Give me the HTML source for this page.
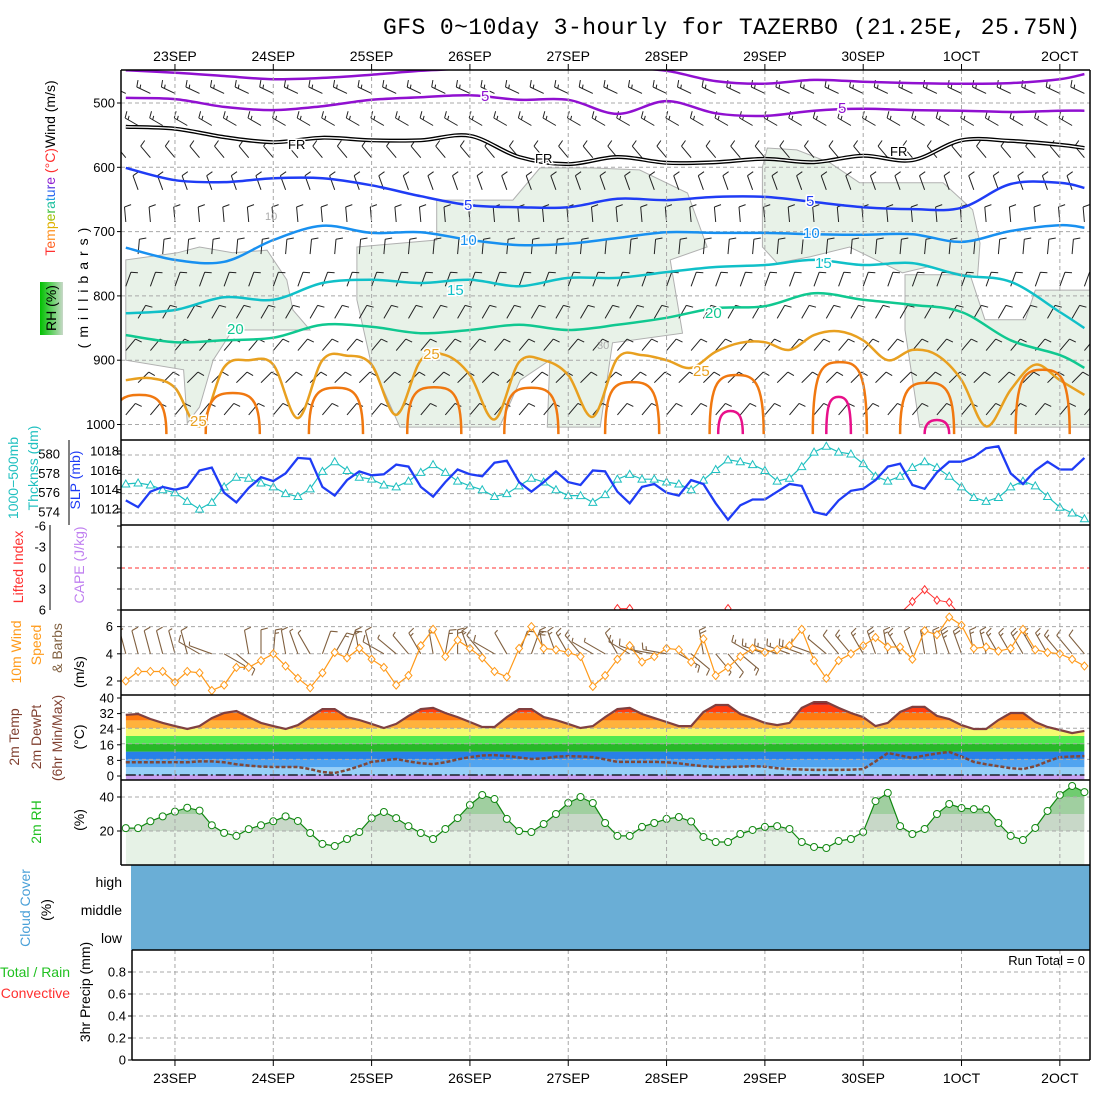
<!DOCTYPE html>
<html><head><meta charset="utf-8">
<style>
body{margin:0;background:#fff}
svg{display:block;font-family:"Liberation Sans",sans-serif}
.lbl{font-size:14px}
.tk{font-size:13px;fill:#000}
.cl{paint-order:stroke;stroke:#fff;stroke-width:3px;font-size:15px}
</style></head><body>
<svg id="chart" width="1100" height="1100" viewBox="0 0 1100 1100" xmlns="http://www.w3.org/2000/svg">
<defs>
<clipPath id="cpTop"><rect x="121" y="70" width="969" height="370"/></clipPath>
<clipPath id="cpSlp"><rect x="121" y="440" width="969" height="85"/></clipPath>
<clipPath id="cpLi"><rect x="121" y="525" width="969" height="85"/></clipPath>
<clipPath id="cpW"><rect x="121" y="610" width="969" height="85"/></clipPath>
<clipPath id="cpT"><rect x="121" y="695" width="969" height="85"/></clipPath>
<clipPath id="cpRH"><rect x="121" y="780" width="969" height="85"/></clipPath>
<linearGradient id="rhGrad" x1="0" x2="1" y1="0" y2="0"><stop offset="0" stop-color="#00c000"/><stop offset="0.5" stop-color="#60d060"/><stop offset="1" stop-color="#c8d8c8"/></linearGradient>
</defs>

<text x="383" y="34" textLength="697" style="font-family:'Liberation Mono',monospace;font-size:23px">GFS 0~10day 3-hourly for TAZERBO (21.25E, 25.75N)</text>

<g id="gTop" clip-path="url(#cpTop)"></g>
<g id="gSlp" clip-path="url(#cpSlp)"></g>
<g id="gLi" clip-path="url(#cpLi)"></g>
<g id="gW" clip-path="url(#cpW)"></g>
<g id="gT" clip-path="url(#cpT)"></g>
<g id="gRH" clip-path="url(#cpRH)"></g>
<g id="gCloud"></g>
<g id="gPr"></g>
<g id="gGrid"></g>
<g id="gFrame"></g>
<g id="gAxis"></g>

<g id="gLabels">
<text class="cl" x="481" y="101" fill="#9010d0">5</text>
<text class="cl" x="838" y="113" fill="#9010d0">5</text>
<text class="cl" x="288" y="149" fill="#000" style="font-size:13px">FR</text>
<text class="cl" x="535" y="163" fill="#000" style="font-size:13px">FR</text>
<text class="cl" x="890" y="156" fill="#000" style="font-size:13px">FR</text>
<text class="cl" x="464" y="210" fill="#1f3cf5">5</text>
<text class="cl" x="806" y="206" fill="#1f3cf5">5</text>
<text class="cl" x="460" y="245" fill="#1890f0">10</text>
<text class="cl" x="803" y="238" fill="#1890f0">10</text>
<text class="cl" x="447" y="295" fill="#10c0c8">15</text>
<text class="cl" x="815" y="268" fill="#10c0c8">15</text>
<text class="cl" x="227" y="334" fill="#10c890">20</text>
<text class="cl" x="705" y="318" fill="#10c890">20</text>
<text class="cl" x="423" y="359" fill="#e8a020">25</text>
<text class="cl" x="190" y="426" fill="#e8a020">25</text>
<text class="cl" x="693" y="376" fill="#e8a020">25</text>
<text x="265" y="220" fill="#aaa" style="font-size:11px">10</text>
<text x="597" y="349" fill="#aaa" style="font-size:11px">30</text>
</g>

<g id="gLeft">
<text class="lbl" transform="translate(55,168) rotate(-90)" text-anchor="middle"><tspan fill="#ff3030">T</tspan><tspan fill="#ff6020">e</tspan><tspan fill="#ff9020">m</tspan><tspan fill="#e0b000">p</tspan><tspan fill="#a0c000">e</tspan><tspan fill="#40c040">r</tspan><tspan fill="#20c0a0">a</tspan><tspan fill="#20a0e0">t</tspan><tspan fill="#2060f0">u</tspan><tspan fill="#6040e0">r</tspan><tspan fill="#9020d0">e</tspan><tspan fill="#ff3030"> (°C)</tspan><tspan fill="#000">Wind (m/s)</tspan></text>
<text class="lbl" transform="translate(88,285) rotate(-90)" text-anchor="middle" letter-spacing="6">(millibars)</text>
<rect x="40" y="282" width="23" height="53" fill="url(#rhGrad)"/>
<text class="lbl" transform="translate(56,308) rotate(-90)" text-anchor="middle">RH (%)</text>
<text class="lbl" transform="translate(18,478) rotate(-90)" text-anchor="middle" fill="#20c0c0">1000−500mb</text>
<text class="lbl" transform="translate(38,468) rotate(-90)" text-anchor="middle" fill="#20c0c0">Thcknss (dm)</text>
<text class="lbl" transform="translate(80,480) rotate(-90)" text-anchor="middle" fill="#1f3cf5">SLP (mb)</text>
<text class="lbl" transform="translate(23,567) rotate(-90)" text-anchor="middle" fill="#ff3030">Lifted Index</text>
<text class="lbl" transform="translate(84,565) rotate(-90)" text-anchor="middle" fill="#c080f0">CAPE (J/kg)</text>
<text class="lbl" transform="translate(21,652) rotate(-90)" text-anchor="middle" fill="#ff9a1a">10m Wind</text>
<text class="lbl" transform="translate(41,645) rotate(-90)" text-anchor="middle" fill="#ff9a1a">Speed</text>
<text class="lbl" transform="translate(62,648) rotate(-90)" text-anchor="middle" fill="#806040">&amp; Barbs</text>
<text class="lbl" transform="translate(84,672) rotate(-90)" text-anchor="middle">(m/s)</text>
<text class="lbl" transform="translate(19,737) rotate(-90)" text-anchor="middle" fill="#804030">2m Temp</text>
<text class="lbl" transform="translate(41,737) rotate(-90)" text-anchor="middle" fill="#804030">2m DewPt</text>
<text class="lbl" transform="translate(62,738) rotate(-90)" text-anchor="middle" fill="#804030">(6hr Min/Max)</text>
<text class="lbl" transform="translate(84,737) rotate(-90)" text-anchor="middle">(°C)</text>
<text class="lbl" transform="translate(41,822) rotate(-90)" text-anchor="middle" fill="#20c020">2m RH</text>
<text class="lbl" transform="translate(84,820) rotate(-90)" text-anchor="middle">(%)</text>
<text class="lbl" transform="translate(30,908) rotate(-90)" text-anchor="middle" fill="#4aa0d8">Cloud Cover</text>
<text class="lbl" transform="translate(51,910) rotate(-90)" text-anchor="middle">(%)</text>
<text class="lbl" x="122" y="887" text-anchor="end">high</text>
<text class="lbl" x="122" y="915" text-anchor="end">middle</text>
<text class="lbl" x="122" y="943" text-anchor="end">low</text>
<text class="lbl" x="70" y="977" text-anchor="end" fill="#20c020">Total / Rain</text>
<text class="lbl" x="70" y="998" text-anchor="end" fill="#ff3030">Convective</text>
<text class="lbl" transform="translate(90,992) rotate(-90)" text-anchor="middle">3hr Precip (mm)</text>
<text class="tk" x="1085" y="965" text-anchor="end">Run Total = 0</text>
</g>
</svg>
<script>
// ---------- data ----------
const dates = ["23SEP","24SEP","25SEP","26SEP","27SEP","28SEP","29SEP","30SEP","1OCT","2OCT"];
const slp = [1013.3,1012.6,1014.2,1014.7,1014.4,1014.7,1016.4,1016.7,1014.1,1013.1,1014.6,1015.7,1015.3,1016.1,1017.7,1017.6,1014.7,1013.8,1015.4,1016.3,1015.9,1016.0,1017.0,1016.8,1014.7,1013.7,1015.2,1016.5,1016.0,1015.8,1017.2,1017.4,1015.2,1014.2,1015.2,1016.3,1015.2,1014.9,1016.4,1016.3,1014.2,1013.0,1014.7,1015.0,1014.1,1013.8,1015.4,1015.0,1013.0,1011.3,1012.8,1013.4,1013.4,1014.2,1015.0,1014.8,1012.1,1011.8,1013.3,1014.3,1014.5,1015.4,1016.8,1017.1,1014.9,1014.5,1016.2,1017.3,1017.3,1017.8,1018.7,1018.9,1016.1,1015.0,1016.4,1017.3,1016.5,1016.5,1017.7];
const thickness = [577.0,577.1,576.9,576.4,576.1,575.2,574.4,575.1,576.7,577.7,577.6,577.1,576.7,576.0,575.7,576.5,578.3,579.3,578.4,577.7,577.5,576.9,576.7,577.3,578.2,579.0,578.2,577.3,576.8,576.4,575.7,576.0,576.8,577.6,577.2,576.4,575.8,575.8,575.1,575.9,577.5,578.0,577.5,577.5,577.2,577.0,576.4,577.4,578.5,579.5,579.3,579.0,578.4,577.3,577.6,578.8,580.3,580.9,580.3,580.1,579.1,577.8,577.3,577.8,578.7,579.3,578.7,577.8,576.7,575.6,575.2,575.6,576.7,577.3,576.8,575.7,574.6,574.0,573.4];
const liftedIndex = [9,9,9,9,9,9,9,9,9,9,9,9,9,9,9,9,9,9,9,9,9,9,9,9,9,9,9,9,9,9,9,9,9,9,9,9,9,9,9,9,5.8,5.8,9,9,9,9,9,9,9,5.8,9,9,9,9,9,9,9,9,9,9,9,9,9,6.5,4.8,3.1,4.6,4.9,7.0,9,9,9,9,9,9,9,9,9,9];
const windSpeed = [2.0,2.7,2.7,2.7,1.9,2.7,2.6,1.3,1.7,3.0,3.0,3.5,4.0,3.1,2.2,1.5,2.6,4.1,3.7,4.4,3.6,3.0,1.7,2.4,4.6,5.8,3.8,5.0,4.4,3.7,2.7,2.3,4.4,6.0,4.4,4.3,4.1,3.8,1.6,2.4,3.6,4.6,3.4,3.8,4.4,4.3,3.4,5.1,2.4,3.0,3.8,4.4,4.1,4.3,4.6,5.8,3.5,2.2,3.5,4.0,4.6,5.2,4.5,4.5,3.6,5.7,5.4,6.7,6.1,4.4,4.5,4.2,4.4,5.8,4.3,4.1,4.0,3.6,3.1];
const windDir = [345,345,345,345,345,345,300,290,120,130,350,0,5,350,340,330,20,30,20,350,345,300,310,320,330,350,10,0,340,320,300,330,20,20,350,340,330,320,300,300,330,300,290,280,280,120,130,350,140,140,130,300,290,290,290,290,290,310,320,320,330,340,350,330,340,350,350,340,340,350,345,330,330,330,330,330,320,320,320];
const temp2m = [30.8,31.3,28.7,26.7,25.1,23.6,25.1,29.2,31.8,32.8,29.7,26.7,25.1,23.6,25.6,29.7,33.8,33.8,29.7,28.2,26.2,24.1,26.2,30.3,33.8,34.4,31.8,29.7,27.2,24.6,24.6,29.7,33.8,33.8,29.7,28.2,26.2,24.1,25.1,29.7,33.8,34.4,31.3,29.2,27.2,25.1,25.1,32.3,35.9,35.9,31.3,29.2,26.7,25.6,26.7,34.4,37.4,37.4,34.4,31.8,29.7,25.1,26.7,32.3,34.9,34.9,30.3,28.7,25.6,23.6,23.6,28.2,31.8,31.8,27.2,24.6,23.1,21.5,22.6];
const dew2m = [6.5,6.5,6.5,6.5,6.5,6.5,7,7,6.5,5.5,4.8,4.3,4.1,4.1,4.1,3,1.5,1,2.5,4.5,6.7,7.5,8.2,7,6,5.6,6.5,8,9.2,10,10.2,9.8,9,8.2,8.5,9.4,9.7,9.5,9.2,8,6.7,6.7,6.7,6.7,6.5,6,5.2,4.5,4.1,4.1,4.3,4.5,4.3,3.5,3,2.8,2.6,2.6,2.6,2.7,3,7,11.3,10,8.7,10,11,11.8,9.5,6.7,5.5,4.5,3.5,3,4.5,7,9.2,9.5,9.7];
const rh2m = [21.7,21.7,25.7,28.6,31.4,33.7,32.0,23.4,18.9,17.1,21.1,23.4,25.7,28.6,25.9,18.8,12.4,11.2,15.3,19.4,27.6,31.2,27.6,22.9,18.8,15.3,21.2,27.6,35.3,41.2,38.8,27.1,20.0,19.4,24.1,30.0,36.5,40.0,36.5,24.7,17.1,17.1,22.4,24.7,27.1,28.2,25.6,16.5,13.5,13.5,18.2,20.6,22.4,22.9,21.2,13.5,10.6,10.0,14.1,15.3,19.4,37.6,42.4,22.9,18.2,21.2,30.0,35.9,33.5,32.9,32.9,24.7,17.1,14.7,21.8,31.8,41.2,46.5,42.9];
const precip3h = [0,0,0,0,0,0,0,0,0,0,0,0,0,0,0,0,0,0,0,0,0,0,0,0,0,0,0,0,0,0,0,0,0,0,0,0,0,0,0,0,0,0,0,0,0,0,0,0,0,0,0,0,0,0,0,0,0,0,0,0,0,0,0,0,0,0,0,0,0,0,0,0,0,0,0,0,0,0,0];
const isoIdx = [0,4,8,12,16,20,24,28,32,36,40,44,48,52,56,60,64,68,72,76,78];
const isoM10 = [449,453,458,463,461,456,450,446,442,442,444,450,466,470,464,467,469,470,469,463,455];
const isoM5 = [492,494,506,511,505,495,491,488,495,495,517,497,516,520,512,509,511,512,514,512,512];
const isoFR = [537,540,553,561,554,558,558,551,584,595,584,593,592,587,592,582,589,558,559,565,570];
const iso5 = [601,620,623,617,617,628,645,659,662,662,649,651,646,646,654,662,665,663,626,624,632];
const iso10 = [725,744,747,713,691,702,701,713,721,719,710,701,702,702,704,705,704,716,699,690,694];
const iso15 = [827,822,802,806,780,775,780,775,785,772,772,763,755,752,744,752,749,768,778,825,850];
const iso20 = [861,872,869,865,845,848,858,853,845,853,845,834,819,816,796,806,814,825,869,892,912];
const iso25Idx = [0,2,4,6,8,10,12,14,16,18,20,22,24,26,28,30,32,34,36,38,40,42,44,46,48,50,52,54,56,58,60,62,64,66,68,70,72,74,76,78];
const iso25 = [931,928,943,1003,911,900,907,990,900,893,907,985,900,892,923,992,903,900,923,988,897,892,900,912,887,873,872,884,861,855,869,900,884,892,931,1003,946,907,931,954];
const hump30Center = [1.1,8.7,17.1,25.1,33,41.2,49.7,58.1,65.2,74.6];
const hump30Top = [954,951,943,942,943,934,923,903,935,915];
const hump35Center = [49.2,58,66];
const hump35Top = [979,957,993];
const rhRegionA = [[0,744],[4.2,733],[6,724],[8.7,733],[11.5,729],[13.1,775],[13.6,822],[15,853],[8.7,853],[7.1,900],[6,973],[5,998],[4.7,915],[0,900]];
const rhRegionB = [[18.8,724],[25.3,713],[25.3,651],[31.5,651],[33.7,601],[37.8,601],[41.8,604],[45.7,640],[47.3,724],[44.3,744],[45.3,858],[39.6,873],[38.6,1004],[34.3,1004],[34.5,900],[32.1,931],[30.4,1004],[22.3,1004],[19.9,900],[18.8,806]];
const rhRegionC = [[51.8,600],[52.2,570],[54.6,573],[57.3,593],[59.7,624],[66.5,624],[68.9,666],[69.5,718],[69.3,771],[65.2,755],[63.2,764],[58.9,724],[55.7,739],[53,749],[51.8,724]];
const rhRegionD = [[63.4,767],[68.7,767],[69.9,837],[73.2,837],[74,791],[78.5,791],[78.5,1004],[64.6,1004],[63.4,853]];
const windLevels = [485,535,585,635,685,735,785,835,885,935,985];
const windLevelDir = [295,300,320,340,355,5,20,30,40,45,40];
const windLevelSpd = [8,8,7,6,6,7,7,6,7,7,6];
const pTicks = [500,600,700,800,900,1000];
const slpTicks = [1012,1014,1016,1018];
const thkTicks = [574,576,578,580];
const liTicks = [-6,-3,0,3,6];
const wTicks = [2,4,6];
const tTicks = [0,8,16,24,32,40];
const rhTicks = [20,40];
const prTicks = [0,0.2,0.4,0.6,0.8];

// ---------- axes ----------
const NS="http://www.w3.org/2000/svg";
const X = i => 125.8 + i*12.29;
const Yp = mb => 103 + (mb-500)*0.643;
const Ys = v => 513 - (v-1012)*9.67;
const Yk = v => 513 - (v-574)*9.67;
const Yl = v => 568 + v*7.0;
const Yw = v => 681 - (v-2)*13.6;
const YT = v => 775 - v*1.95;
const YR = v => 831 - (v-20)*1.7;
const YP = v => 1060 - v*110;
const L = 121, R = 1090;

function mk(tag, attrs, parent){
  const e = document.createElementNS(NS, tag);
  for (const k in attrs) e.setAttribute(k, attrs[k]);
  parent.appendChild(e);
  return e;
}
const $ = id => document.getElementById(id);
function pts(xs, ys){ return xs.map((x,i)=>x.toFixed(1)+','+ys[i].toFixed(1)).join(' '); }
function smoothPath(px, py){
  let d = 'M'+px[0].toFixed(1)+','+py[0].toFixed(1);
  for (let i=0;i<px.length-1;i++){
    const x0=px[Math.max(i-1,0)], y0=py[Math.max(i-1,0)];
    const x1=px[i], y1=py[i], x2=px[i+1], y2=py[i+1];
    const x3=px[Math.min(i+2,px.length-1)], y3=py[Math.min(i+2,py.length-1)];
    d += ' C'+(x1+(x2-x0)/6).toFixed(1)+','+(y1+(y2-y0)/6).toFixed(1)+' '+(x2-(x3-x1)/6).toFixed(1)+','+(y2-(y3-y1)/6).toFixed(1)+' '+x2.toFixed(1)+','+y2.toFixed(1);
  }
  return d;
}
function barb(g, x, y, dir, spd, len, color, w){
  const t = dir*Math.PI/180;
  const sx = Math.sin(t), sy = -Math.cos(t);
  let d = 'M'+x.toFixed(1)+','+y.toFixed(1)+' L'+(x+len*sx).toFixed(1)+','+(y+len*sy).toFixed(1);
  const full = Math.floor(spd/5), half = (spd - full*5) >= 2.5 ? 1 : 0;
  const ta = t + 75*Math.PI/180;
  let p = len;
  for (let k=0;k<full+half;k++){
    const bx = x+p*sx, by = y+p*sy;
    const bl = k<full ? 7 : 4;
    d += ' M'+bx.toFixed(1)+','+by.toFixed(1)+' l'+(bl*Math.sin(ta)).toFixed(1)+','+(-bl*Math.cos(ta)).toFixed(1);
    p -= 3.5;
  }
  return mk('path', {d:d, stroke:color, 'stroke-width':w, fill:'none'}, g);
}
const N = slp.length;
const idxs = slp.map((_,i)=>i);
const dash = {stroke:'#a8a8a8','stroke-width':1,'stroke-dasharray':'4 3'};

// ---------- top panel ----------
const gTop = $('gTop');
[rhRegionA, rhRegionB, rhRegionC, rhRegionD].forEach((reg, r) => {
  const e = mk('polygon', {points: reg.map(p=>X(p[0]).toFixed(1)+','+Yp(p[1]).toFixed(1)).join(' '), fill:'#e8f2e8', stroke:'#b0b0b0','stroke-width':1}, gTop);
  
  
});
pTicks.forEach(p => {
  const e = mk('line', Object.assign({x1:L,x2:R,y1:Yp(p),y2:Yp(p)}, dash), gTop);
  
  
});
windLevels.forEach((lv, j) => {
  for (let i=(j%2); i<N; i+=2){
    const e = barb(gTop, X(i), Yp(lv), windLevelDir[j], windLevelSpd[j], 15, '#222', 1);
    
    
  }
});
function isoLine(vals, ix, color, w, name){
  const e = mk('path', {d: smoothPath(ix.map(X), vals.map(Yp)), stroke: color, 'stroke-width': w, fill:'none'}, gTop);
  
  
  return e;
}
isoLine(isoM10, isoIdx, '#9010d0', 2.5, 'isotherm-minus10');
isoLine(isoM5, isoIdx, '#9010d0', 2.5, 'isotherm-minus5');
isoLine(isoFR, isoIdx, '#000', 4, 'isotherm-freezing');
isoLine(isoFR, isoIdx, '#fff', 1.3, 'isotherm-freezing-inner');
isoLine(iso5, isoIdx, '#1f3cf5', 2.5, 'isotherm-5');
isoLine(iso10, isoIdx, '#1890f0', 2.5, 'isotherm-10');
isoLine(iso15, isoIdx, '#10c0c8', 2.5, 'isotherm-15');
isoLine(iso20, isoIdx, '#10c890', 2.5, 'isotherm-20');
isoLine(iso25, iso25Idx, '#e8a020', 2.5, 'isotherm-25');
function humps(centers, tops, hw, color, name){
  centers.forEach((c, k) => {
    const x0 = X(c-hw), x1 = X(c+hw), xc = X(c), yt = Yp(tops[k]), yb = Yp(1015);
    const d = 'M'+x0.toFixed(1)+','+yb.toFixed(1)+' C'+x0.toFixed(1)+','+(yt+4).toFixed(1)+' '+(xc-(xc-x0)*0.6).toFixed(1)+','+yt.toFixed(1)+' '+xc.toFixed(1)+','+yt.toFixed(1)+
      ' C'+(xc+(x1-xc)*0.6).toFixed(1)+','+yt.toFixed(1)+' '+x1.toFixed(1)+','+(yt+4).toFixed(1)+' '+x1.toFixed(1)+','+yb.toFixed(1);
    const e = mk('path', {d:d, stroke:color, 'stroke-width':2.5, fill:'none'}, gTop);
    
    
  });
}
humps(hump30Center, hump30Top, 2.2, '#f07810', 'isotherm-30');
humps(hump35Center, hump35Top, 1.0, '#e8108a', 'isotherm-35');

// ---------- SLP / thickness ----------
const gSlp = $('gSlp');
slpTicks.forEach(v => {
  const e = mk('line', Object.assign({x1:L,x2:R,y1:Ys(v),y2:Ys(v)}, dash), gSlp);
  
  
});
{
  const e = mk('polyline', {points: pts(idxs.map(X), thickness.map(Yk)), stroke:'#20c0c0','stroke-width':1.2, fill:'none'}, gSlp);
  
  
  thickness.forEach((v,i) => {
    const x = X(i), y = Yk(v);
    const m = mk('polygon', {points: x+','+(y-4)+' '+(x-4)+','+(y+3)+' '+(x+4)+','+(y+3), fill:'#fff', stroke:'#20c0c0','stroke-width':1}, gSlp);
    
    
  });
  const s = mk('polyline', {points: pts(idxs.map(X), slp.map(Ys)), stroke:'#1f3cf5','stroke-width':2.3, fill:'none'}, gSlp);
  
  
}

// ---------- Lifted index ----------
const gLi = $('gLi');
[-3,3].forEach(v => {
  const e = mk('line', Object.assign({x1:L,x2:R,y1:Yl(v),y2:Yl(v)}, dash), gLi);
  
  
});
{
  const z = mk('line', {x1:L,x2:R,y1:Yl(0),y2:Yl(0),stroke:'#ff3030','stroke-width':1,'stroke-dasharray':'4 3'}, gLi);
  
  
  const e = mk('polyline', {points: pts(idxs.map(X), liftedIndex.map(Yl)), stroke:'#ff3030','stroke-width':1, fill:'none'}, gLi);
  
  
  liftedIndex.forEach((v,i) => {
    if (v > 6) return;
    const x = X(i), y = Yl(v);
    const m = mk('polygon', {points: x+','+(y-4)+' '+(x+3)+','+y+' '+x+','+(y+4)+' '+(x-3)+','+y, fill:'#fff', stroke:'#ff3030','stroke-width':1}, gLi);
    
    
  });
}

// ---------- 10m wind ----------
const gW = $('gW');
wTicks.forEach(v => {
  const e = mk('line', Object.assign({x1:L,x2:R,y1:Yw(v),y2:Yw(v)}, dash), gW);
  
  
});
windDir.forEach((d,i) => {
  const e = barb(gW, X(i), Yw(4), d, windSpeed[i]*2, 24, '#806040', 1.1);
  
  
});
{
  const e = mk('polyline', {points: pts(idxs.map(X), windSpeed.map(Yw)), stroke:'#ff9a1a','stroke-width':1.2, fill:'none'}, gW);
  
  
  windSpeed.forEach((v,i) => {
    const x = X(i), y = Yw(v);
    const m = mk('polygon', {points: x+','+(y-4)+' '+(x+3.5)+','+y+' '+x+','+(y+4)+' '+(x-3.5)+','+y, fill:'#fff', stroke:'#ff9a1a','stroke-width':1}, gW);
    
    
  });
}

// ---------- 2m temperature ----------
const gT = $('gT');
{
  const cp = mk('clipPath', {id:'cpTempArea'}, document.querySelector('defs'));
  const poly = X(0).toFixed(1)+',785 '+pts(idxs.map(X), temp2m.map(YT))+' '+X(N-1).toFixed(1)+',785';
  mk('polygon', {points: poly}, cp);
  const bandLo = [-10,0,4,8,12,16,20,24,28,32,36];
  const bandHi = [0,4,8,12,16,20,24,28,32,36,50];
  const bandCol = ['#c8a0f0','#96d0f8','#50a4f0','#2880e8','#28b828','#50e850','#f4fa70','#ffb23c','#ff7a10','#ff3c10','#b41414'];
  const gb = mk('g', {'clip-path':'url(#cpTempArea)'}, gT);
  bandLo.forEach((lo,k) => {
    const e = mk('rect', {x:X(0), width:X(N-1)-X(0), y:YT(bandHi[k]), height:YT(lo)-YT(bandHi[k]), fill:bandCol[k]}, gb);
    
    
  });
  [8,16,24,32].forEach(v => {
    const e = mk('line', Object.assign({x1:L,x2:R,y1:YT(v),y2:YT(v)}, dash), gT);
    
    
  });
  const z = mk('line', {x1:X(0),x2:X(N-1),y1:YT(0),y2:YT(0),stroke:'#000','stroke-width':1.3,'stroke-dasharray':'10 3 2 3'}, gT);
  
  
  const dl = mk('polyline', {points: pts(idxs.map(X), dew2m.map(YT)), stroke:'#804838','stroke-width':2.5,'stroke-dasharray':'4 2', fill:'none'}, gT);
  
  
  const tl = mk('polyline', {points: pts(idxs.map(X), temp2m.map(YT)), stroke:'#804040','stroke-width':2.2, fill:'none'}, gT);
  
  
}

// ---------- 2m RH ----------
const gRH = $('gRH');
{
  const cp = mk('clipPath', {id:'cpRhArea'}, document.querySelector('defs'));
  const poly = X(0).toFixed(1)+',870 '+pts(idxs.map(X), rh2m.map(YR))+' '+X(N-1).toFixed(1)+',870';
  mk('polygon', {points: poly}, cp);
  const gb = mk('g', {'clip-path':'url(#cpRhArea)'}, gRH);
  const lo = [-5,20,30,40], hi = [20,30,40,60], col = ['#e6f2e6','#c8d8c8','#a0cfa0','#70cc70'];
  lo.forEach((l,k) => {
    const e = mk('rect', {x:X(0), width:X(N-1)-X(0), y:YR(hi[k]), height:YR(l)-YR(hi[k]), fill:col[k]}, gb);
    
    
  });
  rhTicks.forEach(v => {
    const e = mk('line', Object.assign({x1:L,x2:R,y1:YR(v),y2:YR(v)}, dash), gRH);
    
    
  });
  const l = mk('polyline', {points: pts(idxs.map(X), rh2m.map(YR)), stroke:'#118811','stroke-width':1.2, fill:'none'}, gRH);
  
  
  rh2m.forEach((v,i) => {
    const m = mk('circle', {cx:X(i), cy:YR(v), r:3.5, fill:'#fff', stroke:'#118811','stroke-width':1}, gRH);
    
    
  });
}

// ---------- cloud & precip ----------
{
  const c = mk('rect', {x:131, y:865, width:R-131, height:85, fill:'#6aaed6'}, $('gCloud'));
  
  
  const gPr = $('gPr');
  prTicks.slice(1).forEach(v => {
    const e = mk('line', Object.assign({x1:132,x2:R,y1:YP(v),y2:YP(v)}, dash), gPr);
    
    
  });
  precip3h.forEach((v,i) => {
    const e = mk('rect', {x:X(i)-4, width:8, y:YP(v), height:YP(0)-YP(v), fill:'#20c020'}, gPr);
    
    
  });
}

// ---------- day gridlines & date labels ----------
const gGrid = $('gGrid');
dates.forEach((d,k) => {
  const x = X(4+8*k);
  const a = mk('line', Object.assign({x1:x,x2:x,y1:70,y2:865}, dash), gGrid);
  
  
  const b = mk('line', Object.assign({x1:x,x2:x,y1:950,y2:1060}, dash), gGrid);
  
  
  const t1 = mk('text', {x:x, y:61, 'text-anchor':'middle', 'font-size':14}, gGrid);
  t1.textContent = d;
  
  
  const t2 = mk('text', {x:x, y:1083, 'text-anchor':'middle', 'font-size':14}, gGrid);
  t2.textContent = d;
  
  
  const tk1 = mk('line', {x1:x,x2:x,y1:64,y2:70,stroke:'#000'}, gGrid);
  
  
  const tk2 = mk('line', {x1:x,x2:x,y1:1060,y2:1066,stroke:'#000'}, gGrid);
  
  
});

// ---------- frame ----------
const gF = $('gFrame');
function fl(x1,y1,x2,y2,name,w){
  const e = mk('line', {x1:x1,y1:y1,x2:x2,y2:y2,stroke:'#000','stroke-width':w||1.5}, gF);
  
  
}
[70,440,525,610,695,780,865].forEach(y => fl(L,y,R,y,'panel-border',1.5));
fl(L,70,L,865,'left-border');
fl(R,70,R,1060,'right-border');
fl(132,950,R,950,'precip-top-border');
fl(132,1060,R,1060,'precip-bottom-border');
fl(132,950,132,1060,'precip-left-border');
fl(69,440,69,525,'thickness-axis-line',1);
fl(50,525,50,610,'li-axis-line',1);

// ---------- tick labels ----------
const gA = $('gAxis');
function tl(x,y,txt,name,anchor,color){
  const e = mk('text', {x:x, y:y+4.5, 'text-anchor':anchor||'end', 'font-size':13, fill:color||'#000'}, gA);
  e.textContent = txt;
  
  
  const t = mk('line', {x1:L-4,x2:L,y1:y,y2:y,stroke:'#000'}, gA);
  
  
}
pTicks.forEach(v => tl(115, Yp(v), String(v), 'pressure-tick-label'));
slpTicks.forEach(v => tl(119, Ys(v)-4, String(v), 'slp-tick-label'));
thkTicks.forEach(v => tl(60, Yk(v)-1, String(v), 'thickness-tick-label'));
liTicks.forEach(v => tl(46, Yl(v), String(v), 'li-tick-label'));
wTicks.forEach(v => tl(113, Yw(v), String(v), 'wind-tick-label'));
tTicks.forEach(v => tl(114, YT(v)+1, String(v), 'temp-tick-label'));
rhTicks.forEach(v => tl(114, YR(v), String(v), 'rh-tick-label'));
prTicks.forEach(v => {
  const e = mk('text', {x:126, y:YP(v)+4.5, 'text-anchor':'end', 'font-size':13}, gA);
  e.textContent = v===0 ? '0' : v.toFixed(1);
  
  
  const t = mk('line', {x1:128,x2:132,y1:YP(v),y2:YP(v),stroke:'#000'}, gA);
  
  
});
</script>
</body></html>
